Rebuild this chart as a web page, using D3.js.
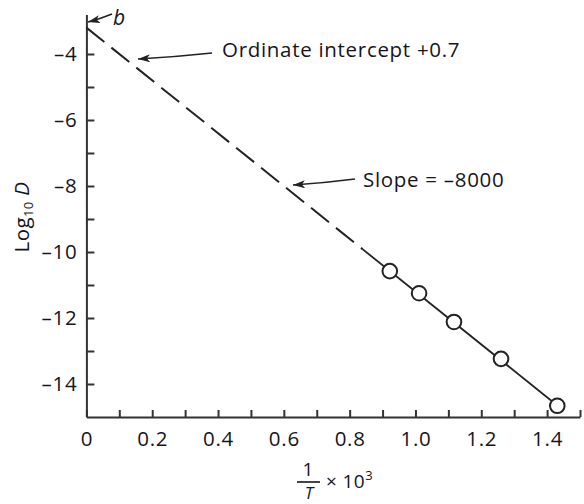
<!DOCTYPE html>
<html>
<head>
<meta charset="utf-8">
<script src="https://cdn.jsdelivr.net/npm/d3@7"></script>
<style>
  html, body { margin: 0; padding: 0; background: #fff; }
  svg { display: block; }
  text { font-family: "Open Sans", "Noto Sans", sans-serif; fill: #15151d; }
</style>
</head>
<body>
<svg id="chart" width="584" height="504"></svg>
<script>
// Data
const pointX = [0.922, 1.011, 1.117, 1.260, 1.431];
const pointY = [-10.58, -11.25, -12.12, -13.24, -14.66];
const dashedX = [0, 0.84];
const dashedY = [-3.2, -9.92];
const solidX = [0.84, 1.431];
const solidY = [-9.92, -14.65];
const xTicks = [0, 0.1, 0.2, 0.3, 0.4, 0.5, 0.6, 0.7, 0.8, 0.9, 1.0, 1.1, 1.2, 1.3, 1.4, 1.5];
const xTickLabels = ["0", "", "0.2", "", "0.4", "", "0.6", "", "0.8", "", "1.0", "", "1.2", "", "1.4", ""];
const yTicks = [-14, -13, -12, -11, -10, -9, -8, -7, -6, -5, -4];
const yTickLabels = ["–14", "", "–12", "", "–10", "", "–8", "", "–6", "", "–4"];
const annotations = [
  { text: "Ordinate intercept +0.7" },
  { text: "Slope = –8000" },
  { text: "b" }
];

const FS = 20.5;
const LS = 0.7;

const svg = d3.select("#chart");
const x = d3.scaleLinear().domain([0, 1.5]).range([86.4, 580]);
const y = d3.scaleLinear().domain([-15, -2.8]).range([417, 14.4]);

const axisColor = "#333";

// X axis
const xAxis = d3.axisBottom(x)
  .tickValues(xTicks)
  .tickFormat((d, i) => xTickLabels[i])
  .tickSizeInner(-7)
  .tickSizeOuter(0)
  .tickPadding(14);
const gx = svg.append("g").attr("transform", `translate(0,${y(-15)})`).call(xAxis);
gx.select(".domain").attr("stroke", axisColor).attr("stroke-width", 2);
gx.selectAll(".tick line").attr("stroke", axisColor).attr("stroke-width", 2);
gx.selectAll(".tick text").attr("font-size", FS).attr("letter-spacing", LS).attr("fill", "#15151d")
  .attr("font-family", '"Open Sans", sans-serif');

// Y axis
const yAxis = d3.axisLeft(y)
  .tickValues(yTicks)
  .tickFormat((d, i) => yTickLabels[i])
  .tickSizeInner(-8)
  .tickSizeOuter(0)
  .tickPadding(9);
const gy = svg.append("g").attr("transform", `translate(${x(0)},0)`).call(yAxis);
gy.select(".domain").attr("stroke", axisColor).attr("stroke-width", 2);
gy.selectAll(".tick line").attr("stroke", axisColor).attr("stroke-width", 2);
gy.selectAll(".tick text").attr("font-size", FS).attr("letter-spacing", LS).attr("fill", "#15151d")
  .attr("font-family", '"Open Sans", sans-serif');

// Lines
const line = d3.line().x(d => x(d[0])).y(d => y(d[1]));
svg.append("path")
  .attr("d", line(dashedX.map((v, i) => [v, dashedY[i]])))
  .attr("fill", "none").attr("stroke", "#222").attr("stroke-width", 2)
  .attr("stroke-dasharray", "23,9");
svg.append("path")
  .attr("d", line(solidX.map((v, i) => [v, solidY[i]])))
  .attr("fill", "none").attr("stroke", "#222").attr("stroke-width", 1.8);

// Points
svg.selectAll("circle.pt")
  .data(pointX.map((v, i) => [v, pointY[i]]))
  .join("circle")
  .attr("class", "pt")
  .attr("cx", d => x(d[0])).attr("cy", d => y(d[1]))
  .attr("r", 7.3)
  .attr("fill", "#fff").attr("stroke", "#222").attr("stroke-width", 2);

// Arrowhead marker
svg.append("defs").append("marker")
  .attr("id", "arrow")
  .attr("viewBox", "0 0 12 8")
  .attr("refX", 12).attr("refY", 4)
  .attr("markerWidth", 12).attr("markerHeight", 8)
  .attr("markerUnits", "userSpaceOnUse")
  .attr("orient", "auto")
  .append("path").attr("d", "M0,0 L12,4 L0,8 L3,4 Z").attr("fill", "#222");

function arrow(x1, y1, x2, y2) {
  svg.append("path")
    .attr("d", `M${x1},${y1} Q${(x1 + x2) / 2},${(y1 + y2) / 2 + 1} ${x2},${y2}`)
    .attr("fill", "none").attr("stroke", "#222").attr("stroke-width", 1.6)
    .attr("marker-end", "url(#arrow)");
}

// b annotation
arrow(112, 14, 88, 22);
svg.append("text").attr("x", 113).attr("y", 25)
  .attr("font-size", 21).attr("font-style", "italic").text(annotations[2].text);

// Ordinate intercept annotation
arrow(212, 53, 138, 59);
svg.append("text").attr("x", 222).attr("y", 57)
  .attr("font-size", FS).attr("letter-spacing", LS).text(annotations[0].text);

// Slope annotation
arrow(355, 179, 293, 185);
svg.append("text").attr("x", 363).attr("y", 187)
  .attr("font-size", FS).attr("letter-spacing", LS).text(annotations[1].text);

// Y axis label: Log10 D
const yl = svg.append("text")
  .attr("transform", "translate(29,217) rotate(-90)")
  .attr("text-anchor", "middle")
  .attr("font-size", FS).attr("letter-spacing", 0.4);
yl.append("tspan").text("Log");
yl.append("tspan").attr("font-size", 13).attr("dy", 4).text("10");
yl.append("tspan").attr("dy", -4).text(" ");
yl.append("tspan").attr("font-style", "italic").text("D");

// X axis label: 1/T × 10^3
const xl = svg.append("g");
xl.append("text").attr("x", 308).attr("y", 476).attr("text-anchor", "middle")
  .attr("font-size", 19).text("1");
xl.append("line").attr("x1", 297).attr("x2", 320).attr("y1", 482).attr("y2", 482)
  .attr("stroke", "#15151d").attr("stroke-width", 1.6);
xl.append("text").attr("x", 309).attr("y", 499).attr("text-anchor", "middle")
  .attr("font-size", 17).attr("font-style", "italic").text("T");
const xt = xl.append("text").attr("x", 326).attr("y", 488).attr("font-size", 19).attr("letter-spacing", 0.4);
xt.append("tspan").text("× 10");
xt.append("tspan").attr("font-size", 13).attr("dy", -8).text("3");
</script>
</body>
</html>
